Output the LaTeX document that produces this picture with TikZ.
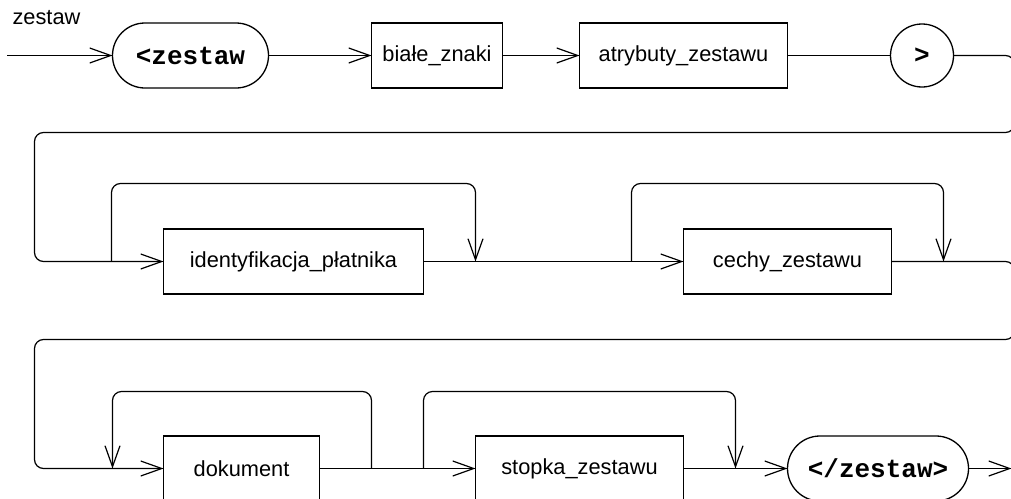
\documentclass[tikz,border=0pt]{standalone}
\usepackage{fontspec}
\setmainfont{Liberation Sans}
\setmonofont{Liberation Mono}
\usetikzlibrary{arrows.meta}
\begin{document}
\begin{tikzpicture}[x=1pt,y=-1pt,
  every node/.style={inner sep=0pt, outer sep=0pt},
  lbl/.style={font=\fontsize{21.8}{26}\selectfont},
  term/.style={draw, line width=1.3pt, rounded corners=32.5pt, minimum height=65pt, font=\fontsize{26}{30}\selectfont\ttfamily\bfseries},
  nterm/.style={draw, line width=1.3pt, minimum height=65pt, font=\fontsize{21.8}{26}\selectfont},
  circ/.style={draw, line width=1.3pt, circle, minimum size=63pt, font=\fontsize{26}{30}\selectfont\ttfamily\bfseries},
  conn/.style={line width=1.2pt, rounded corners=9pt},
  arr/.style={conn, -{Straight Barb[length=21pt, width=15pt, line width=1.2pt]}}
]
\useasboundingbox (-0.5,-0.5) rectangle (1010.5,497.5);
% row 1
\node[lbl] (title) at (46,17) {zestaw};
\coordinate (start) at (7,55);
\node[term, minimum width=156pt] (n1) at (190,55) {<zestaw};
\node[nterm, minimum width=131pt] (n2) at (436.5,55) {białe\_znaki};
\node[nterm, minimum width=208pt] (n3) at (683,55) {atrybuty\_zestawu};
\node[circ] (n4) at (921.5,55) {>};
% row 2
\node[nterm, minimum width=260pt] (n5) at (293,261) {identyfikacja\_płatnika};
\node[nterm, minimum width=208pt] (n6) at (787,261) {cechy\_zestawu};
% row 3
\node[nterm, minimum width=156pt] (n7) at (241,468) {dokument};
\node[nterm, minimum width=208pt] (n8) at (579,468) {stopka\_zestawu};
\node[term, minimum width=181pt] (n9) at (877.5,468) {</zestaw>};
% helper coordinates
\coordinate (r1a) at (1014,55);
\coordinate (r1b) at (1014,132);
\coordinate (l1a) at (34,132);
\coordinate (l1b) at (34,261);
\coordinate (r2a) at (1014,261);
\coordinate (r2b) at (1014,339);
\coordinate (l2a) at (34,339);
\coordinate (l2b) at (34,468);
\coordinate (b1) at (111,261);
\coordinate (b1t) at (111,183);
\coordinate (j1t) at (475,183);
\coordinate (j1) at (475,261);
\coordinate (b2) at (631,261);
\coordinate (b2t) at (631,183);
\coordinate (j2t) at (943,183);
\coordinate (j2) at (943,261);
\coordinate (b3) at (371,468);
\coordinate (b3t) at (371,391);
\coordinate (j3t) at (112,391);
\coordinate (j3) at (112,468);
\coordinate (b4) at (423,468);
\coordinate (b4t) at (423,391);
\coordinate (j4t) at (735,391);
\coordinate (j4) at (735,468);
\coordinate (end) at (1011,468);
% connectors
\draw[arr] (start) -- (n1.west);
\draw[arr] (n1.east) -- (n2.west);
\draw[arr] (n2.east) -- (n3.west);
\draw[conn] (n3.east) -- (n4.west);
\draw[arr] (n4.east) -- (r1a) -- (r1b) -- (l1a) -- (l1b) -- (n5.west);
\draw[arr] (b1) -- (b1t) -- (j1t) -- (j1);
\draw[arr] (n5.east) -- (n6.west);
\draw[arr] (b2) -- (b2t) -- (j2t) -- (j2);
\draw[arr] (n6.east) -- (r2a) -- (r2b) -- (l2a) -- (l2b) -- (n7.west);
\draw[arr] (b3) -- (b3t) -- (j3t) -- (j3);
\draw[arr] (n7.east) -- (n8.west);
\draw[arr] (b4) -- (b4t) -- (j4t) -- (j4);
\draw[arr] (n8.east) -- (n9.west);
\draw[arr] (n9.east) -- (end);
\end{tikzpicture}
\end{document}
